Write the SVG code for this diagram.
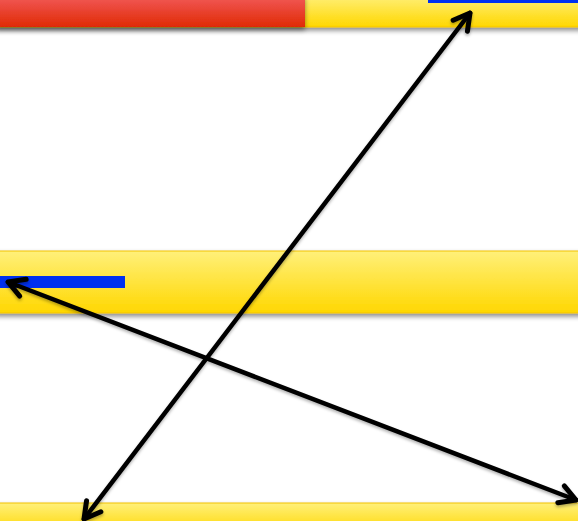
<svg xmlns="http://www.w3.org/2000/svg" width="578" height="521" viewBox="0 0 578 521">
<defs>
<linearGradient id="yel" x1="0" y1="0" x2="0" y2="1">
<stop offset="0" stop-color="#fff07a"/>
<stop offset="1" stop-color="#ffd700"/>
</linearGradient>
<linearGradient id="red" x1="0" y1="0" x2="0" y2="1">
<stop offset="0" stop-color="#f25b5b"/>
<stop offset="1" stop-color="#e02a05"/>
</linearGradient>
<filter id="sh" x="-5%" y="-20%" width="110%" height="160%">
<feDropShadow dx="0" dy="3" stdDeviation="2.5" flood-color="#000" flood-opacity="0.45"/>
</filter>
<filter id="lsh" x="-10%" y="-10%" width="120%" height="120%">
<feDropShadow dx="0" dy="2" stdDeviation="1.5" flood-color="#000" flood-opacity="0.3"/>
</filter>
<marker id="ah" viewBox="0 0 24 24" refX="20" refY="12" markerWidth="24" markerHeight="24" markerUnits="userSpaceOnUse" orient="auto-start-reverse">
<path d="M4,3 L20,12 L4,21" fill="none" stroke="#000" stroke-width="5" stroke-linecap="round" stroke-linejoin="round"/>
</marker>
<style>
.yb{fill:url(#yel);stroke:#f2c200;stroke-width:1;filter:url(#sh)}
.rb{fill:url(#red);filter:url(#sh)}
.bl{fill:#0030f0}
.con{stroke:#000;stroke-width:4.5;fill:none;stroke-linecap:round;marker-start:url(#ah);marker-end:url(#ah)}
</style>
</defs>
<g id="top-band">
<rect class="yb" x="-5" y="-5" width="590" height="32"/>
<rect class="rb" x="-5" y="-5" width="310" height="32"/>
<rect class="bl" x="428" y="-2" width="155" height="5"/>
</g>
<g id="middle-band">
<rect class="yb" x="-5" y="251" width="590" height="62"/>
<rect class="bl" x="-2" y="276" width="127" height="12"/>
</g>
<g id="bottom-band">
<rect class="yb" x="-5" y="503" width="590" height="30"/>
</g>
<g id="connectors" filter="url(#lsh)">
<line class="con" x1="470" y1="13" x2="84" y2="519"/>
<line class="con" x1="8" y1="282" x2="576" y2="500"/>
</g>
</svg>
